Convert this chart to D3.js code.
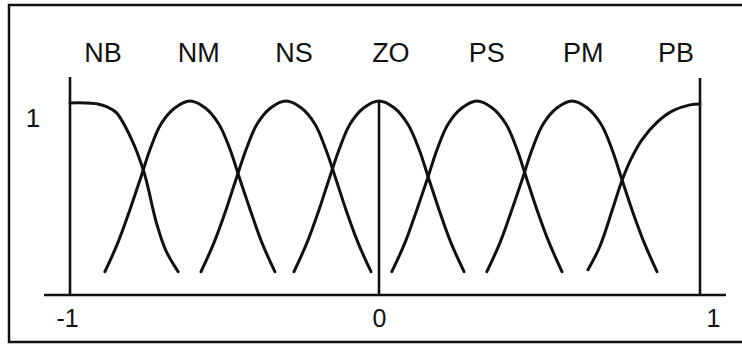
<!DOCTYPE html>
<html>
<head>
<meta charset="utf-8">
<script src="https://cdn.jsdelivr.net/npm/d3@7"></script>
<style>
  body { margin: 0; background: #fff; }
  svg { display: block; }
  text { font-family: "Liberation Sans", Arial, Helvetica, sans-serif; fill: #111; }
</style>
</head>
<body>
<div id="chart"></div>
<script>
// fuzzy set names and where their labels sit (x in universe units)
const setNames = ["NB", "NM", "NS", "ZO", "PS", "PM", "PB"];
const labelAt = [-0.893, -0.583, -0.275, 0.037, 0.336, 0.636, 0.925];

// membership curves: [x, mu]
const nb = [[-1, 0.99], [-0.95, 0.99], [-0.91, 0.985], [-0.88, 0.97], [-0.85, 0.94], [-0.80, 0.80], [-0.76, 0.63], [-0.72, 0.37], [-0.69, 0.23], [-0.65, 0.12]];
const nm = [[-0.887, 0.12], [-0.845, 0.27], [-0.806, 0.44], [-0.770, 0.61], [-0.741, 0.75], [-0.706, 0.88], [-0.660, 0.965], [-0.612, 1],
            [-0.563, 0.965], [-0.518, 0.88], [-0.482, 0.75], [-0.453, 0.61], [-0.417, 0.44], [-0.379, 0.27], [-0.337, 0.12]];
const ns = [[-0.576, 0.12], [-0.534, 0.27], [-0.495, 0.44], [-0.460, 0.61], [-0.430, 0.75], [-0.395, 0.88], [-0.350, 0.965], [-0.301, 1],
            [-0.252, 0.965], [-0.207, 0.88], [-0.172, 0.75], [-0.142, 0.61], [-0.107, 0.44], [-0.068, 0.27], [-0.026, 0.12]];
const zo = [[-0.275, 0.12], [-0.233, 0.27], [-0.194, 0.44], [-0.159, 0.61], [-0.129, 0.75], [-0.094, 0.88], [-0.049, 0.965], [0, 1],
            [0.047, 0.965], [0.090, 0.88], [0.125, 0.75], [0.153, 0.61], [0.187, 0.44], [0.224, 0.27], [0.265, 0.12]];
const ps = [[0.040, 0.12], [0.081, 0.27], [0.118, 0.44], [0.153, 0.61], [0.181, 0.75], [0.215, 0.88], [0.259, 0.965], [0.305, 1],
            [0.352, 0.965], [0.396, 0.88], [0.430, 0.75], [0.458, 0.61], [0.492, 0.44], [0.530, 0.27], [0.570, 0.12]];
const pm = [[0.336, 0.12], [0.377, 0.27], [0.414, 0.44], [0.449, 0.61], [0.477, 0.75], [0.511, 0.88], [0.555, 0.965], [0.601, 1],
            [0.648, 0.965], [0.692, 0.88], [0.726, 0.75], [0.754, 0.61], [0.788, 0.44], [0.826, 0.27], [0.866, 0.12]];
const pb = [[0.651, 0.13], [0.688, 0.25], [0.729, 0.45], [0.757, 0.59], [0.785, 0.70], [0.819, 0.80], [0.866, 0.89], [0.916, 0.95], [0.969, 0.98], [1, 0.985]];

const curves = [nb, nm, ns, zo, ps, pm, pb];
const xTicks = [-1, 0, 1];

const width = 742, height = 347;

const svg = d3.select("#chart")
    .append("svg")
    .attr("width", width)
    .attr("height", height);

// the original drawing is not quite symmetric around 0
const x = d3.scaleLinear().domain([-1, 0, 1]).range([70, 379, 700]);
const y = d3.scaleLinear().domain([0, 1]).range([295, 101]);

// outer frame (right side runs off the picture)
svg.append("path")
    .attr("d", `M${width + 5},5 H9 V342 H${width + 5}`)
    .attr("fill", "none")
    .attr("stroke", "#111")
    .attr("stroke-width", 2.5);

const lines = svg.append("g")
    .attr("stroke", "#111")
    .attr("stroke-width", 2.6);

// horizontal axis
lines.append("line")
    .attr("x1", x(-1) - 26).attr("x2", x(1) + 26)
    .attr("y1", y(0)).attr("y2", y(0));

// vertical lines at -1, 0 and 1
lines.append("line")
    .attr("x1", x(-1)).attr("x2", x(-1))
    .attr("y1", y(0)).attr("y2", y(1) - 24);
lines.append("line")
    .attr("x1", x(1)).attr("x2", x(1))
    .attr("y1", y(0)).attr("y2", y(1) - 23);
lines.append("line")
    .attr("x1", x(0)).attr("x2", x(0))
    .attr("y1", y(0)).attr("y2", y(1));

// tick labels under the axis (plain hyphen like the original)
const xAxis = svg.append("g")
    .attr("transform", `translate(0,${y(0)})`)
    .call(d3.axisBottom(x).tickValues(xTicks).tickSize(0).tickPadding(14).tickFormat(d => String(d)));
xAxis.select(".domain").remove();
xAxis.selectAll("text")
    .style("font-size", "25px")
    .style("font-family", "\"Liberation Sans\", Arial, sans-serif")
    .attr("fill", "#111");
xAxis.selectAll(".tick").filter(d => d === -1).select("text").attr("dx", "-3px");
xAxis.selectAll(".tick").filter(d => d === 1).select("text").attr("dx", "13px");

// "1" on the left
svg.append("text")
    .attr("x", x(-1) - 37)
    .attr("y", y(1) + 26)
    .attr("text-anchor", "middle")
    .style("font-size", "26px")
    .text("1");

// membership curves
const line = d3.line()
    .x(d => x(d[0]))
    .y(d => y(d[1]))
    .curve(d3.curveCatmullRom.alpha(0.5));

svg.append("g")
    .selectAll("path")
    .data(curves)
    .join("path")
    .attr("d", line)
    .attr("fill", "none")
    .attr("stroke", "#111")
    .attr("stroke-width", 3)
    .attr("stroke-linecap", "round");

// set names above
svg.append("g")
    .selectAll("text")
    .data(setNames)
    .join("text")
    .attr("x", (d, i) => x(labelAt[i]))
    .attr("y", 62)
    .attr("text-anchor", "middle")
    .style("font-size", "27px")
    .text(d => d);
</script>
</body>
</html>
